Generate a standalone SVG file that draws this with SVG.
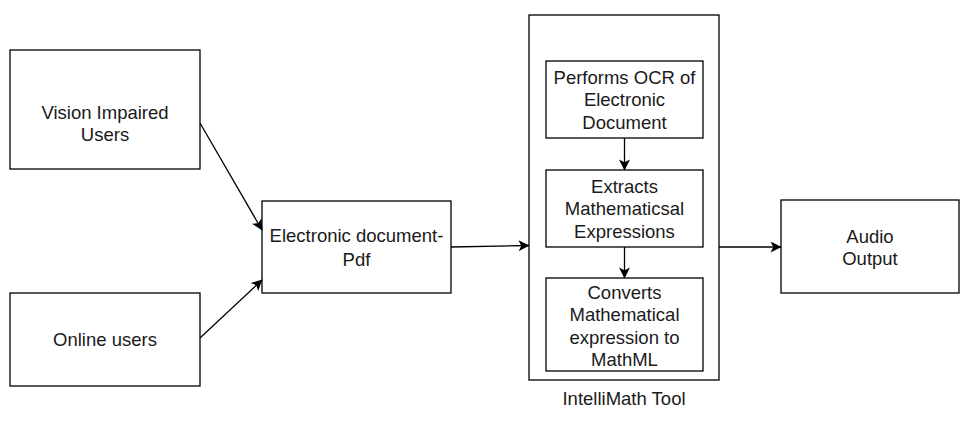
<svg xmlns="http://www.w3.org/2000/svg" width="960" height="446" viewBox="0 0 960 446">
<defs>
<marker id="arr" viewBox="0 0 10 10" refX="9.5" refY="5" markerWidth="12" markerHeight="11" markerUnits="userSpaceOnUse" orient="auto">
<path d="M0,0 L10,5 L0,10 L2.5,5 Z" fill="#000"/>
</marker>
<style>
rect{fill:#fff;stroke:#000;stroke-width:1.3}
text{font-family:"Liberation Sans",Arial,sans-serif;font-size:18.5px;fill:#1a1a1a;text-anchor:middle}
.c line{stroke:#000;stroke-width:1.3;marker-end:url(#arr)}
</style>
</defs>
<rect x="0" y="0" width="960" height="446" style="stroke:none"/>
<g id="vision"><rect x="10" y="50" width="190" height="119"/><text x="105" y="119">Vision Impaired</text><text x="105" y="141">Users</text></g>
<g id="online"><rect x="10" y="293" width="190" height="93"/><text x="105" y="346">Online users</text></g>
<g id="edoc"><rect x="262" y="201" width="189" height="92"/><text x="356.5" y="241.5">Electronic document-</text><text x="356.5" y="265.5">Pdf</text></g>
<g id="intellimath"><rect x="529" y="15" width="190" height="365"/><text x="624" y="404.5">IntelliMath Tool</text></g>
<g id="ocr"><rect x="546" y="61" width="157" height="77"/><text x="624.5" y="83.5">Performs OCR of</text><text x="624.5" y="106">Electronic</text><text x="624.5" y="128.5">Document</text></g>
<g id="extract"><rect x="546" y="170" width="157" height="77"/><text x="624.5" y="192.5">Extracts</text><text x="624.5" y="215">Mathematicsal</text><text x="624.5" y="237.5">Expressions</text></g>
<g id="convert"><rect x="546" y="278" width="157" height="93"/><text x="624.5" y="298.5">Converts</text><text x="624.5" y="321">Mathematical</text><text x="624.5" y="343.5">expression to</text><text x="624.5" y="366">MathML</text></g>
<g id="audio"><rect x="781" y="200" width="178" height="93"/><text x="870" y="242.5">Audio</text><text x="870" y="264.5">Output</text></g>
<g class="c" id="connectors">
<line x1="200" y1="123" x2="262" y2="230"/>
<line x1="200" y1="338" x2="262" y2="280"/>
<line x1="451" y1="247" x2="529" y2="245.5"/>
<line x1="719" y1="247" x2="781" y2="247"/>
<line x1="624.5" y1="138" x2="624.5" y2="170"/>
<line x1="624.5" y1="247" x2="624.5" y2="278"/>
</g>
</svg>
